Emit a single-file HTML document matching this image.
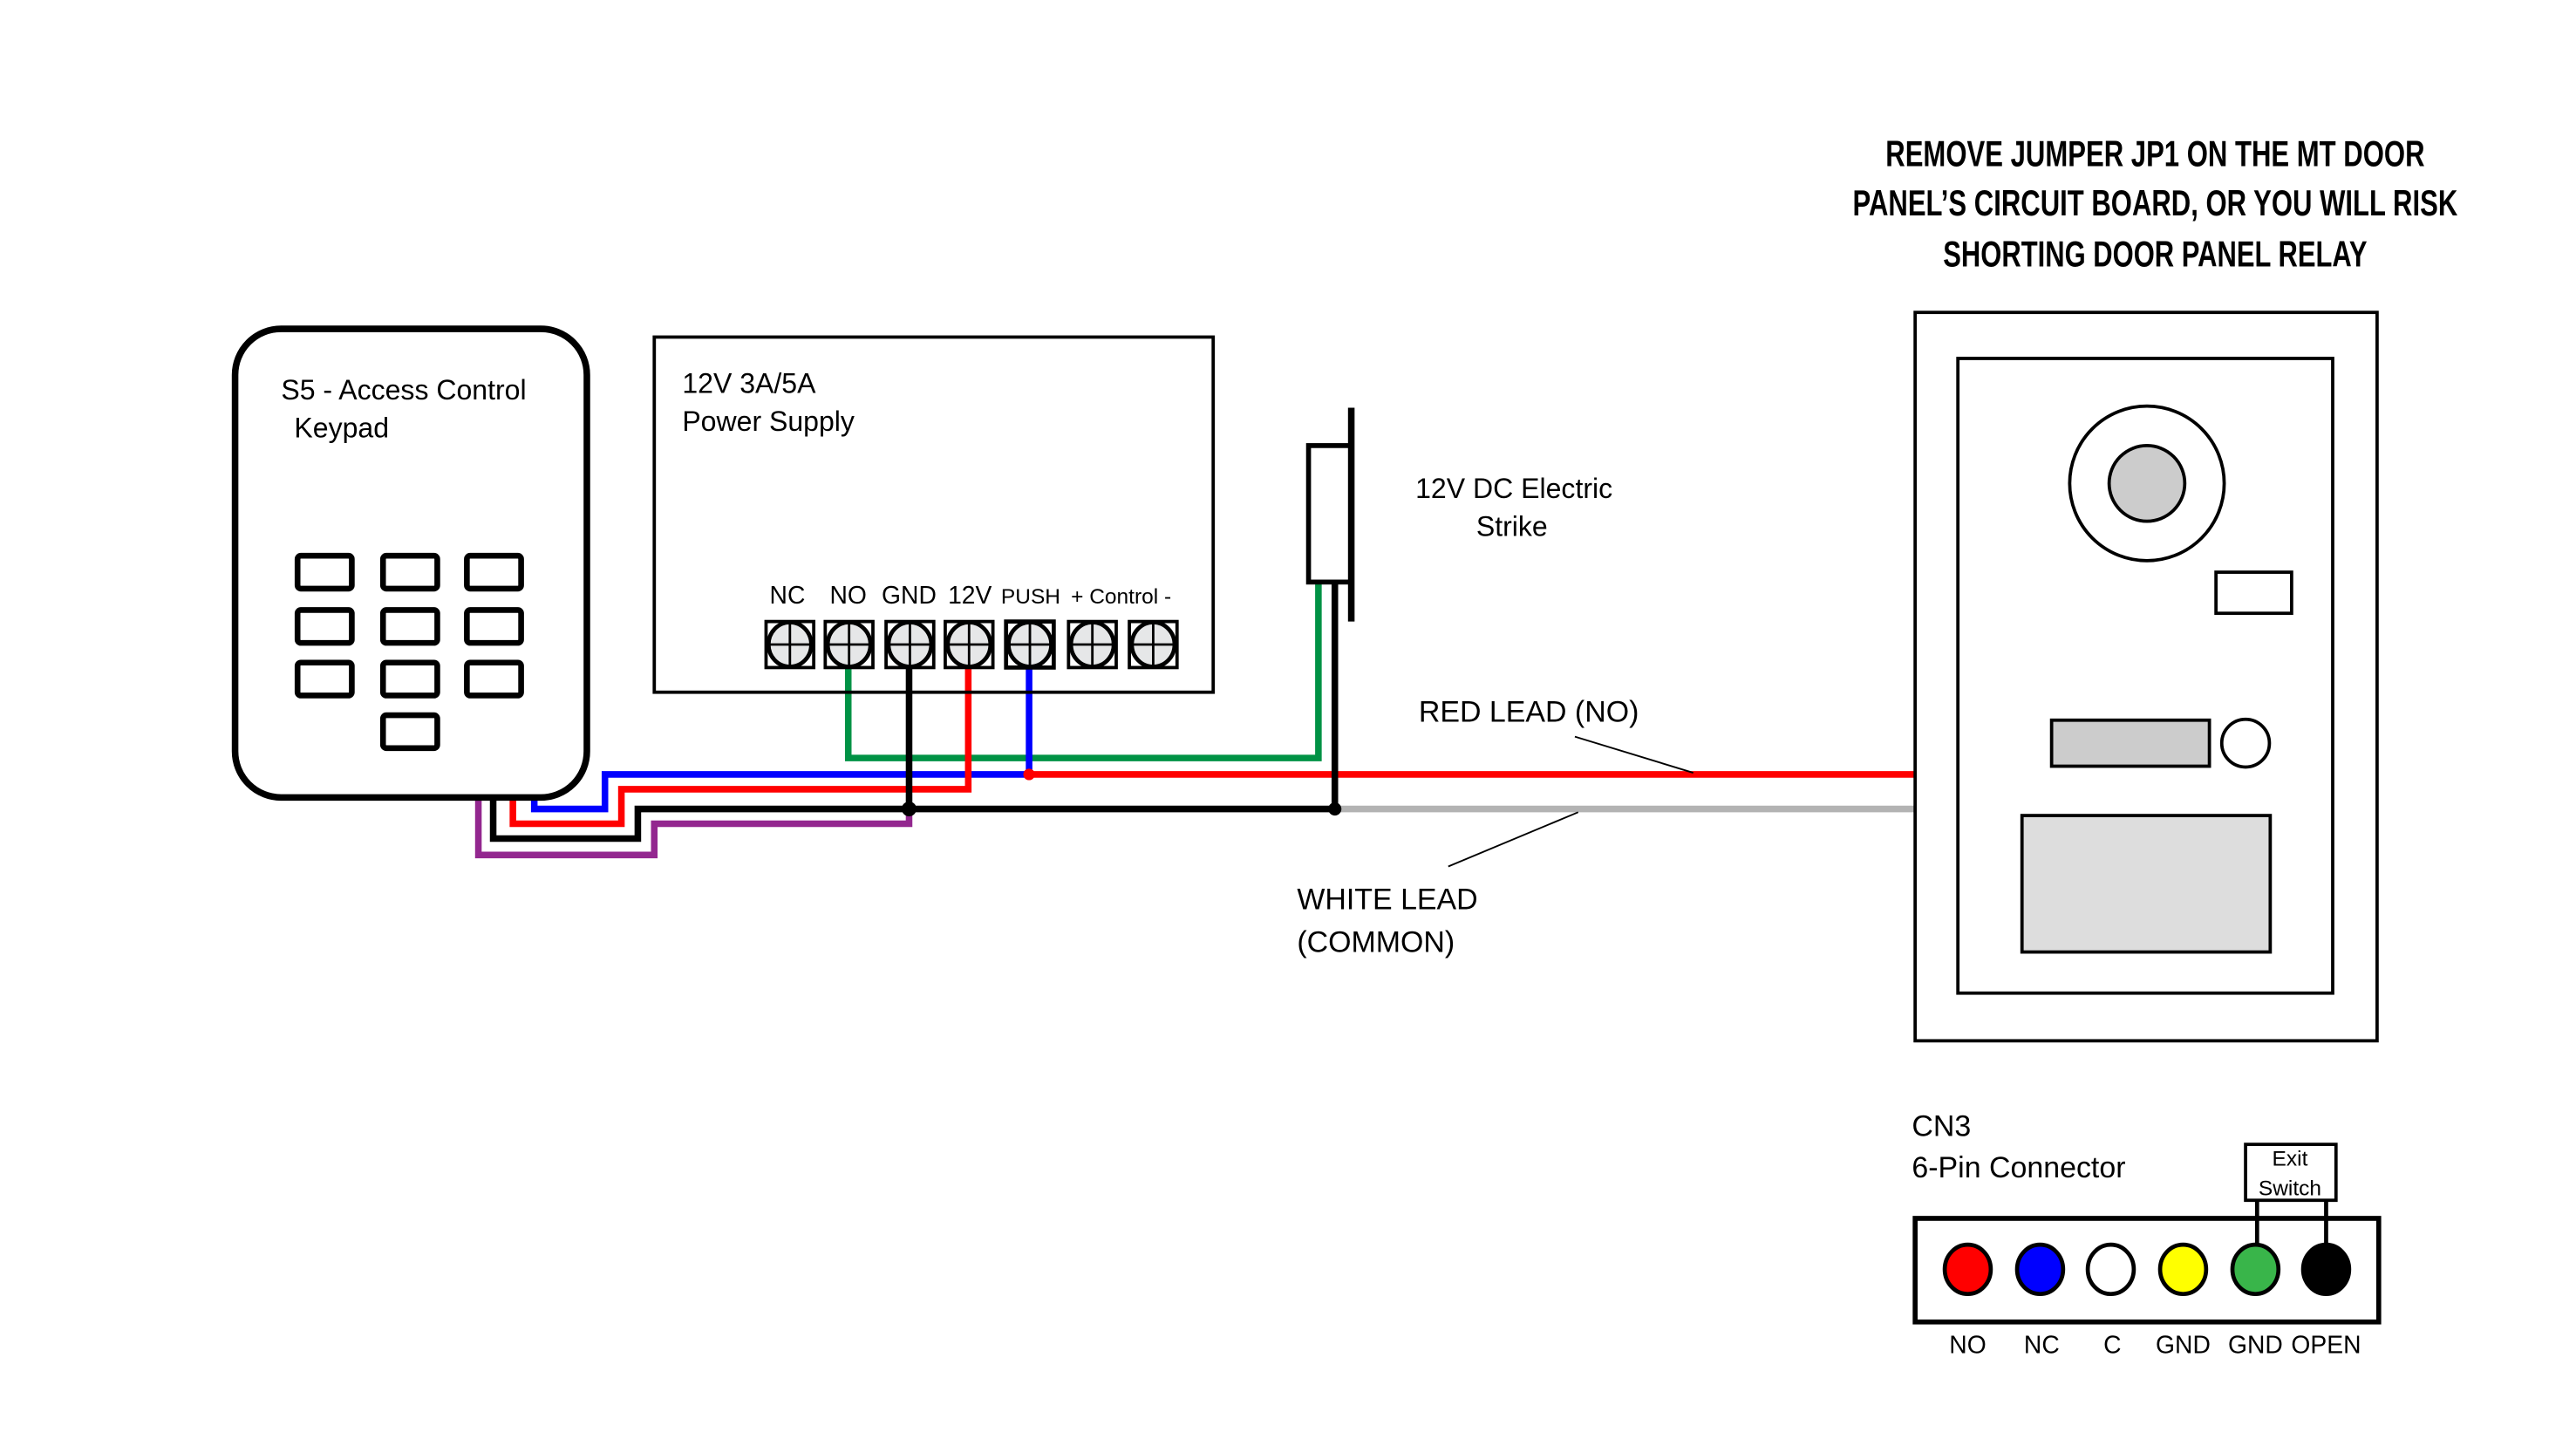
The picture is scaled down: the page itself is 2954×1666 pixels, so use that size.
<!DOCTYPE html>
<html><head><meta charset="utf-8"><style>
html,body{margin:0;padding:0;background:#fff;}
svg{display:block;}
text{font-family:"Liberation Sans",sans-serif;fill:#000;}
</style></head><body>
<svg width="2954" height="1666" viewBox="0 0 1567 883.7" preserveAspectRatio="none" xmlns="http://www.w3.org/2000/svg">
<rect width="1567" height="884" fill="#fff"/>
<g font-family="Liberation Sans Narrow, Liberation Sans, sans-serif" font-weight="bold" font-size="22" text-anchor="middle">
<text x="1311" y="101" textLength="328" lengthAdjust="spacingAndGlyphs">REMOVE JUMPER JP1 ON THE MT DOOR</text>
<text x="1311" y="131" textLength="368" lengthAdjust="spacingAndGlyphs">PANEL’S CIRCUIT BOARD, OR YOU WILL RISK</text>
<text x="1311" y="162" textLength="258" lengthAdjust="spacingAndGlyphs">SHORTING DOOR PANEL RELAY</text>
</g>
<g fill="none" stroke-width="4" stroke-linejoin="miter">
<polyline points="516,405 516,461 802,461 802,355" stroke="#009245"/>
<polyline points="325,485 325,492 368,492 368,471 626,471 626,405" stroke="#0000ff"/>
<polyline points="312,485 312,501 378,501 378,480 589,480 589,405" stroke="#ff0000"/>
<polyline points="291,485 291,520 398,520 398,501 553,501 553,492" stroke="#93278f"/>
<line x1="812" y1="492" x2="1165" y2="492" stroke="#b3b3b3"/>
<polyline points="300,485 300,510 388,510 388,492 812,492" stroke="#000"/>
<line x1="553" y1="405" x2="553" y2="492" stroke="#000"/>
<line x1="626" y1="471" x2="1165" y2="471" stroke="#ff0000"/>
<line x1="812" y1="355" x2="812" y2="492" stroke="#000"/>
</g>
<circle cx="553" cy="492" r="4.5" fill="#000"/>
<circle cx="812" cy="492" r="4" fill="#000"/>
<circle cx="626" cy="471" r="3.5" fill="#ff0000"/>
<rect x="143" y="200" width="214" height="285" rx="28" fill="#fff" stroke="#000" stroke-width="4"/>
<text x="171" y="243" font-size="17">S5 - Access Control</text>
<text x="179" y="266" font-size="17">Keypad</text>
<g fill="none" stroke="#000" stroke-width="3.5">
<rect x="181" y="338" width="33" height="20" rx="2"/><rect x="233" y="338" width="33" height="20" rx="2"/><rect x="284" y="338" width="33" height="20" rx="2"/>
<rect x="181" y="371" width="33" height="20" rx="2"/><rect x="233" y="371" width="33" height="20" rx="2"/><rect x="284" y="371" width="33" height="20" rx="2"/>
<rect x="181" y="403" width="33" height="20" rx="2"/><rect x="233" y="403" width="33" height="20" rx="2"/><rect x="284" y="403" width="33" height="20" rx="2"/>
<rect x="233" y="435" width="33" height="20" rx="2"/>
</g>
<rect x="398" y="205" width="340" height="216" fill="none" stroke="#000" stroke-width="2"/>
<text x="415" y="239" font-size="17">12V 3A/5A</text>
<text x="415" y="262" font-size="17">Power Supply</text>
<g font-size="15" text-anchor="middle">
<text x="479" y="367">NC</text><text x="516" y="367">NO</text><text x="553" y="367">GND</text><text x="590" y="367">12V</text>
<text x="627" y="367" font-size="13">PUSH</text><text x="682" y="367" font-size="13">+ Control -</text>
</g>
<g stroke="#000">
<g transform="translate(466,378)"><rect width="29" height="28" fill="#fff" stroke-width="2"/><ellipse cx="14.5" cy="14" rx="13" ry="13.5" fill="#e6e7e8" stroke-width="2.5"/><path d="M14.5 1V27M1.5 14H27.5" stroke-width="1.5"/></g>
<g transform="translate(502,378)"><rect width="29" height="28" fill="#fff" stroke-width="2"/><ellipse cx="14.5" cy="14" rx="13" ry="13.5" fill="#e6e7e8" stroke-width="2.5"/><path d="M14.5 1V27M1.5 14H27.5" stroke-width="1.5"/></g>
<g transform="translate(539,378)"><rect width="29" height="28" fill="#fff" stroke-width="2"/><ellipse cx="14.5" cy="14" rx="13" ry="13.5" fill="#e6e7e8" stroke-width="2.5"/><path d="M14.5 1V27M1.5 14H27.5" stroke-width="1.5"/></g>
<g transform="translate(575,378)"><rect width="29" height="28" fill="#fff" stroke-width="2"/><ellipse cx="14.5" cy="14" rx="13" ry="13.5" fill="#e6e7e8" stroke-width="2.5"/><path d="M14.5 1V27M1.5 14H27.5" stroke-width="1.5"/></g>
<g transform="translate(612,378)"><rect width="29" height="28" fill="#fff" stroke-width="2.5"/><ellipse cx="14.5" cy="14" rx="13" ry="13.5" fill="#e6e7e8" stroke-width="2.5"/><path d="M14.5 1V27M1.5 14H27.5" stroke-width="1.5"/></g>
<g transform="translate(650,378)"><rect width="29" height="28" fill="#fff" stroke-width="2"/><ellipse cx="14.5" cy="14" rx="13" ry="13.5" fill="#e6e7e8" stroke-width="2.5"/><path d="M14.5 1V27M1.5 14H27.5" stroke-width="1.5"/></g>
<g transform="translate(687,378)"><rect width="29" height="28" fill="#fff" stroke-width="2"/><ellipse cx="14.5" cy="14" rx="13" ry="13.5" fill="#e6e7e8" stroke-width="2.5"/><path d="M14.5 1V27M1.5 14H27.5" stroke-width="1.5"/></g>
</g>
<rect x="796" y="271" width="26" height="83" fill="#fff" stroke="#000" stroke-width="3"/>
<line x1="822" y1="248" x2="822" y2="378" stroke="#000" stroke-width="4"/>
<text x="861" y="303" font-size="17">12V DC Electric</text>
<text x="898" y="326" font-size="17">Strike</text>
<text x="863" y="439" font-size="18">RED LEAD (NO)</text>
<line x1="958" y1="448" x2="1030" y2="470" stroke="#000" stroke-width="1"/>
<text x="789" y="553" font-size="18">WHITE LEAD</text>
<text x="789" y="579" font-size="18">(COMMON)</text>
<line x1="881" y1="527" x2="960" y2="494" stroke="#000" stroke-width="1"/>
<rect x="1165" y="190" width="281" height="443" fill="#fff" stroke="#000" stroke-width="2"/>
<rect x="1191" y="218" width="228" height="386" fill="none" stroke="#000" stroke-width="2"/>
<circle cx="1306" cy="294" r="47" fill="#fff" stroke="#000" stroke-width="2"/>
<circle cx="1306" cy="294" r="23" fill="#ccc" stroke="#000" stroke-width="2"/>
<rect x="1348" y="348" width="46" height="25" fill="#fff" stroke="#000" stroke-width="2"/>
<rect x="1248" y="438" width="96" height="28" fill="#ccc" stroke="#000" stroke-width="2"/>
<circle cx="1366" cy="452" r="14.5" fill="#fff" stroke="#000" stroke-width="2"/>
<rect x="1230" y="496" width="151" height="83" fill="#ddd" stroke="#000" stroke-width="2"/>
<text x="1163" y="691" font-size="18">CN3</text>
<text x="1163" y="716" font-size="18">6-Pin Connector</text>
<rect x="1366" y="696" width="55" height="34" fill="#fff" stroke="#000" stroke-width="2"/>
<text x="1393" y="709" font-size="13" text-anchor="middle">Exit</text>
<text x="1393" y="727" font-size="13" text-anchor="middle">Switch</text>
<line x1="1373" y1="730" x2="1373" y2="760" stroke="#000" stroke-width="2.5"/>
<line x1="1415" y1="730" x2="1415" y2="760" stroke="#000" stroke-width="2.5"/>
<rect x="1165" y="741" width="282" height="63" fill="none" stroke="#000" stroke-width="3"/>
<g stroke="#000" stroke-width="2.5">
<ellipse cx="1197" cy="772" rx="14" ry="15" fill="#ff0000"/>
<ellipse cx="1241" cy="772" rx="14" ry="15" fill="#0000ff"/>
<ellipse cx="1284" cy="772" rx="14" ry="15" fill="#fff"/>
<ellipse cx="1328" cy="772" rx="14" ry="15" fill="#ffff00"/>
<ellipse cx="1372" cy="772" rx="14" ry="15" fill="#39b54a"/>
<ellipse cx="1415" cy="772" rx="14" ry="15" fill="#000"/>
</g>
<g font-size="15" text-anchor="middle">
<text x="1197" y="823">NO</text><text x="1242" y="823">NC</text><text x="1285" y="823">C</text>
<text x="1328" y="823">GND</text><text x="1372" y="823">GND</text><text x="1415" y="823">OPEN</text>
</g>
</svg>
</body></html>
